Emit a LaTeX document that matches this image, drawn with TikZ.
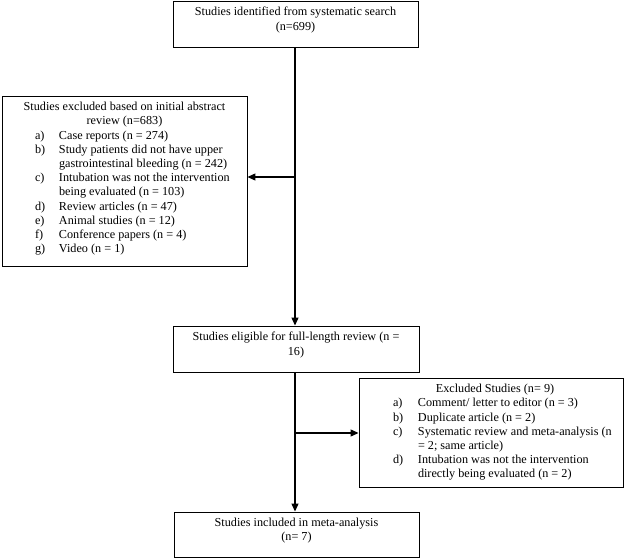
\documentclass[tikz,border=0pt]{standalone}
\usepackage{fontspec}
\setmainfont{Liberation Serif}
\usetikzlibrary{arrows.meta}

\tikzset{
	box/.style={draw, line width=0.9pt, inner sep=0pt},
	flow/.style={line width=1.2pt, -{Triangle[length=8pt,width=7pt]}}
}
\newcommand{\boxtext}[3]{\parbox[c][#1][t]{#2}{\vspace*{6.3pt}#3}}

\begin{document}
\begin{tikzpicture}[x=1pt, y=-1pt, font=\fontsize{12.2}{14.2}\selectfont]
	\useasboundingbox (0,0) rectangle (630,559);

	\node[box] (search) at (295.5,24) {\boxtext{46pt}{245pt}{\centering
		Studies identified from systematic search\\(n=699)}};

	\node[box] (abstract) at (124.5,181) {\boxtext{170pt}{245pt}{%
		{\centering Studies excluded based on initial abstract\\review (n=683)\par}
		\begin{tabular}[t]{@{\hspace{33pt}}p{24pt}@{}l@{}}
			a) & Case reports (n = 274)\\
			b) & Study patients did not have upper\\
			   & gastrointestinal bleeding (n = 242)\\
			c) & Intubation was not the intervention\\
			   & being evaluated (n = 103)\\
			d) & Review articles (n = 47)\\
			e) & Animal studies (n = 12)\\
			f) & Conference papers (n = 4)\\
			g) & Video (n = 1)
		\end{tabular}}};

	\node[box] (eligible) at (296,349) {\boxtext{46pt}{246pt}{\centering
		Studies eligible for full-length review (n =\\16)}};

	\node[box] (excluded) at (491,432.5) {\boxtext{109pt}{264pt}{%
		{\centering\hspace*{8pt}Excluded Studies (n= 9)\par}
		\begin{tabular}[t]{@{\hspace{34pt}}p{25pt}@{}l@{}}
			a) & Comment/ letter to editor (n = 3)\\
			b) & Duplicate article (n = 2)\\
			c) & Systematic review and meta-analysis (n\\
			   & = 2; same article)\\
			d) & Intubation was not the intervention\\
			   & directly being evaluated (n = 2)
		\end{tabular}}};

	\node[box] (included) at (296.5,534.5) {\boxtext{45pt}{245pt}{\centering
		Studies included in meta-analysis\\(n= 7)}};

	% main line and the two side branches
	\coordinate (split1) at (295,177);
	\coordinate (split2) at (295,433);
	\draw[flow] (search.south -| split1) -- (eligible.north -| split1);
	\draw[flow] (eligible.south -| split1) -- (included.north -| split1);
	\draw[flow] (split1) -- (split1 -| abstract.east);
	\draw[flow] (split2) -- (split2 -| excluded.west);
\end{tikzpicture}
\end{document}
